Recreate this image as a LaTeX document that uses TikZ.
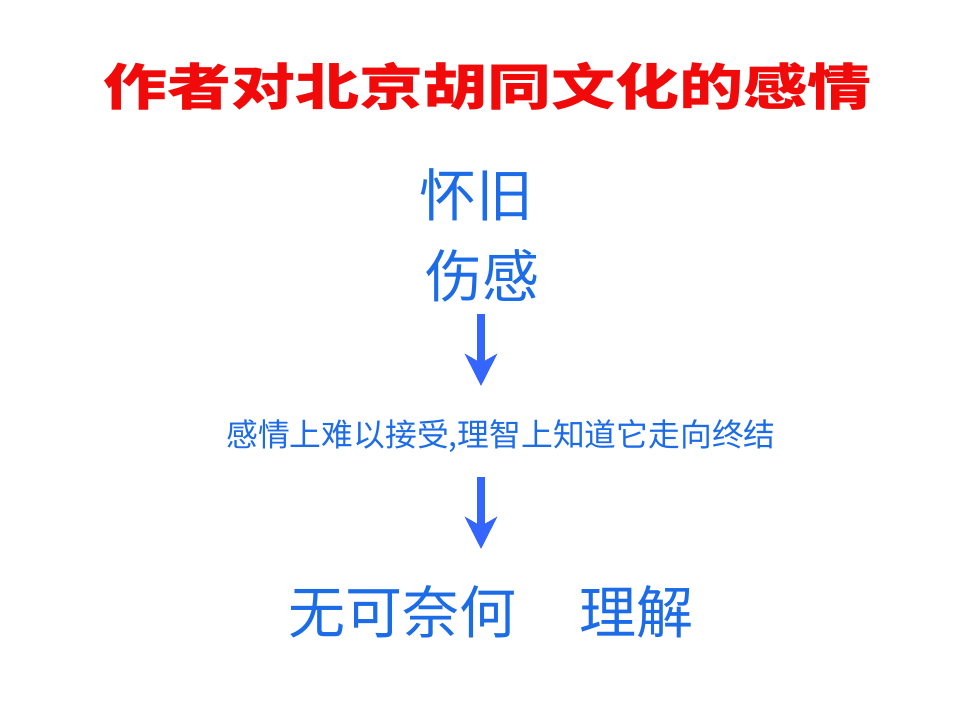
\documentclass[tikz,border=0pt]{standalone}
\usepackage{fontspec}
\newfontfamily\cjk{Noto Sans CJK SC}
\usetikzlibrary{arrows.meta}
\definecolor{txtblue}{RGB}{28,108,232}
\definecolor{arrblue}{RGB}{52,102,255}
\definecolor{titlered}{RGB}{240,10,10}
\tikzset{
  bigtext/.style={font=\cjk\fontsize{57}{60}\selectfont, text=txtblue, inner sep=0pt},
  midtext/.style={font=\cjk\fontsize{31.8}{34}\selectfont, text=txtblue, inner sep=0pt},
  titletext/.style={font=\cjk\bfseries\fontsize{50}{54}\selectfont, text=titlered, inner sep=0pt, xscale=1.28},
  bigarrow/.style={draw=arrblue, line width=8pt, -{Stealth[width=32pt,length=32pt,inset=9pt]}}
}
\begin{document}
\begin{tikzpicture}[x=1pt,y=-1pt]
\useasboundingbox (0,0) rectangle (960,720);
\node[titletext] (title) at (487,86) {作者对北京胡同文化的感情};
\node[bigtext] (huaijiu) at (476,195) {怀旧};
\node[bigtext] (shanggan) at (482,276) {伤感};
\node[midtext] (mid) at (501,436) {感情上难以接受,理智上知道它走向终结};
\node[bigtext] (wuke) at (491,612) {无可奈何\hspace{64pt}理解};
\coordinate (a1s) at (481,314);
\coordinate (a1e) at (481,386);
\coordinate (a2s) at (481,477);
\coordinate (a2e) at (481,549);
\draw[bigarrow] (a1s) -- (a1e);
\draw[bigarrow] (a2s) -- (a2e);
\end{tikzpicture}
\end{document}
